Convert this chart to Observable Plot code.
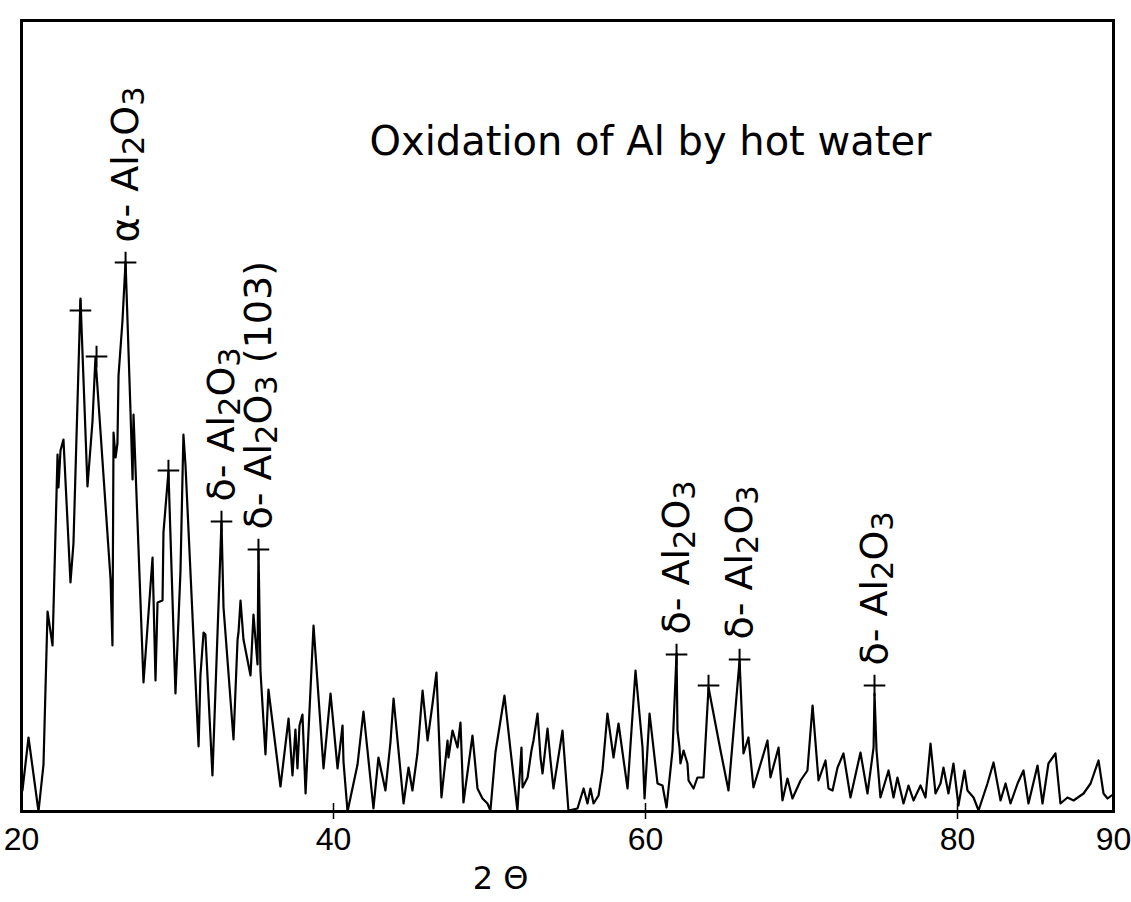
<!DOCTYPE html>
<html>
<head>
<meta charset="utf-8">
<script src="https://cdn.jsdelivr.net/npm/d3@7"></script>
<script src="https://cdn.jsdelivr.net/npm/@observablehq/plot@0.6"></script>
<style>
  html, body { margin: 0; padding: 0; background: #fff; }
  #chart svg { display: block; }
</style>
</head>
<body>
<div id="chart"></div>
<script>
// Diffraction trace: scattering angle 2θ (degrees) and detector intensity (arbitrary units)
const twoTheta = [20.06,20.45,21.09,21.41,21.67,21.99,22.31,22.37,22.50,22.69,23.14,23.33,23.78,24.23,24.55,24.74,25.71,25.83,25.90,26.03,26.15,26.22,26.47,26.67,26.99,27.12,27.18,27.82,28.40,28.59,28.72,29.04,29.10,29.42,29.87,30.19,30.38,30.51,31.35,31.47,31.67,31.79,32.24,32.82,32.95,33.59,33.85,33.91,34.04,34.23,34.68,34.87,35.13,35.19,35.32,35.64,35.83,36.60,37.12,37.37,37.56,37.69,37.82,38.01,38.21,38.72,39.36,39.81,40.26,40.58,40.64,40.90,41.54,41.92,42.18,42.56,42.88,43.33,43.65,43.85,44.49,44.81,45.06,45.38,45.71,46.03,46.35,46.60,46.92,47.31,47.37,47.63,47.95,48.14,48.33,48.91,49.23,49.55,49.87,50.06,50.38,50.96,51.35,51.79,52.05,52.12,52.44,52.69,52.82,53.08,53.27,53.40,53.72,53.91,54.10,54.68,55.06,55.64,56.03,56.28,56.47,56.67,56.99,57.24,57.56,57.95,58.27,58.85,59.36,59.81,59.94,60.26,60.77,61.09,61.35,61.73,61.99,62.05,62.18,62.24,62.44,62.69,62.76,63.08,63.33,63.72,64.04,64.81,65.32,66.03,66.28,66.60,66.92,67.50,67.82,68.01,68.53,68.78,69.10,69.42,69.94,70.38,70.71,71.09,71.54,71.73,71.99,72.31,72.69,73.14,73.78,74.23,74.62,74.68,74.81,75.06,75.58,75.90,76.15,76.54,76.86,77.18,77.63,77.95,78.27,78.59,78.91,79.10,79.42,79.74,80.06,80.45,80.64,81.03,81.35,81.92,82.31,82.76,83.08,83.40,83.85,84.23,84.55,85.13,85.45,85.83,86.28,86.60,87.05,87.44,88.08,88.53,89.04,89.36,89.62,89.87];
const counts = [21,74,0,47,200,166,357,324,361,372,229,268,513,325,390,454,232,166,379,354,368,436,490,550,399,332,397,129,254,131,209,211,279,340,118,240,377,347,65,136,179,177,36,290,204,72,172,179,211,172,136,197,147,262,140,57,122,25,93,36,82,43,86,97,18,186,43,118,43,86,50,0,47,100,61,3,54,21,69,113,8,44,21,58,121,71,108,139,14,71,54,81,64,89,9,76,23,13,8,1,59,116,61,1,64,24,34,61,71,98,54,38,83,51,23,81,1,3,23,8,23,8,16,41,98,54,88,23,141,64,13,98,28,26,4,61,158,81,64,48,61,48,31,23,34,34,124,61,21,151,58,74,24,54,71,34,64,11,33,13,31,41,106,31,51,23,21,44,58,14,59,18,64,118,61,14,41,14,34,8,26,11,26,14,68,18,28,44,18,48,6,41,21,14,1,28,49,11,28,8,28,41,8,46,8,48,58,8,14,11,18,28,51,18,13,16];

// Marked reflections: position of each "+" and its phase assignment
const peakTwoTheta = [23.78, 24.81, 26.67, 29.42, 32.82, 35.19, 61.99, 64.04, 66.03, 74.68];
const peakCounts = [501, 455, 549, 341, 290, 262, 157, 126, 152, 126];
const peakLabels = ["", "", "α- Al₂O₃", "", "δ- Al₂O₃", "δ- Al₂O₃ (103)", "δ- Al₂O₃", "", "δ- Al₂O₃", "δ- Al₂O₃"];

// Axis
const tickValues = [20, 40, 60, 80, 90];
const innerTicks = [40, 60, 80];
const title = "Oxidation of Al by hot water";
const xLabel = "2 Θ";

const trace = twoTheta.map((t, i) => ({t, c: counts[i]}));
const peaks = peakTwoTheta.map((t, i) => ({t, c: peakCounts[i], label: peakLabels[i]}));

const font = "'DejaVu Sans', 'Liberation Sans', sans-serif";
const labelSize = 38;

const chart = Plot.plot({
  width: 1131,
  height: 902,
  marginTop: 20,
  marginBottom: 91,
  marginLeft: 21,
  marginRight: 18,
  style: {fontFamily: font, background: "#fff", color: "#000"},
  x: {domain: [20, 90], label: null},
  y: {domain: [0, 791], axis: null},
  marks: [
    Plot.frame({stroke: "#000", strokeWidth: 3}),
    Plot.axisX(innerTicks, {tickSize: 16, dy: -8, tickFormat: () => "", stroke: "#000", strokeWidth: 1.5, label: null}),
    Plot.axisX(tickValues, {tickSize: 0, tickPadding: 16, fontSize: 32, fontFamily: "'Liberation Sans', sans-serif", fill: "#000", label: null}),
    Plot.line(trace, {x: "t", y: "c", stroke: "#000", strokeWidth: 2.2}),
    Plot.dot(peaks, {x: "t", y: "c", symbol: "plus", r: 7, stroke: "#000", strokeWidth: 2}),
    Plot.text(peaks, {x: "t", y: "c", text: "label", rotate: -90, textAnchor: "start", dy: -20, fontSize: labelSize, fill: "#000"}),
    Plot.text([title], {frameAnchor: "top", dx: 83, dy: 106, fontSize: 40, fill: "#000"}),
    Plot.text([xLabel], {frameAnchor: "bottom", dx: -67, dy: 77, fontSize: 32, fill: "#000"})
  ]
});

// Typeset the chemical formulae with slightly lowered, near-full-size subscripts
const subDigits = "₀₁₂₃₄₅₆₇₈₉";
const shift = 6;
d3.select(chart).selectAll("text").each(function () {
  const s = this.textContent;
  if (!/[₀-₉]/.test(s) || this.querySelector("tspan")) return;
  const el = d3.select(this).text(null);
  let lowered = false;
  for (const part of s.match(/[₀-₉]+|[^₀-₉]+/g)) {
    const isSub = /[₀-₉]/.test(part);
    const span = el.append("tspan")
      .text(isSub ? [...part].map(c => subDigits.indexOf(c)).join("") : part);
    if (isSub && !lowered) { span.attr("dy", shift); lowered = true; }
    else if (!isSub && lowered) { span.attr("dy", -shift); lowered = false; }
    if (isSub) span.attr("font-size", "0.8em");
  }
});

document.getElementById("chart").appendChild(chart);
</script>
</body>
</html>
